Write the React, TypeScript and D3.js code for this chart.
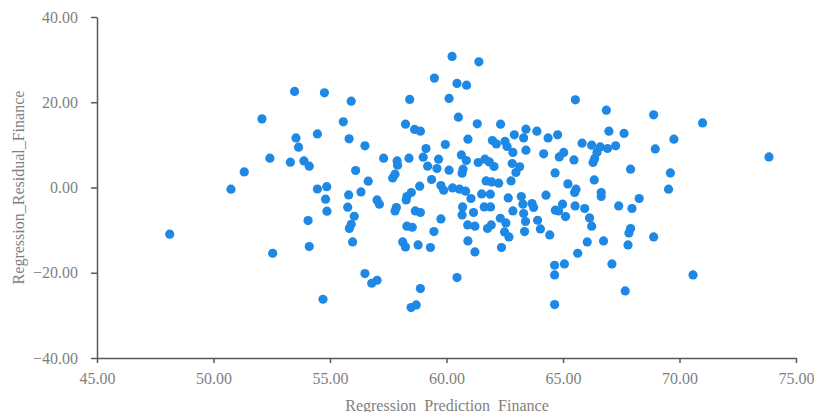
import { useEffect, useRef } from "react";
import * as d3 from "d3";

// values, same order in both arrays
const prediction = [
  53.48, 54.76, 52.08, 53.54, 54.46, 53.65, 52.42, 53.3, 53.88, 54.11,
  51.32, 50.75, 54.46, 54.86, 54.81, 54.87, 54.06, 48.12, 54.11, 52.54,
  54.7, 55.91, 55.57, 55.82, 56.5, 56.1, 56.64, 55.8, 56.33, 55.76,
  56.04, 55.91, 55.83, 55.97, 57.02, 57.12, 56.5, 56.79, 57.02,
  60.51, 58.24, 58.63, 58.88, 61.32, 62.32, 63.41, 63.88, 62.91, 63.31,
  64.36, 60.92, 59.95, 61.97, 62.14, 62.51, 62.6, 62.85, 63.41, 64.17,
  57.3, 57.88, 57.9, 58.39, 59.12, 59.0, 59.66, 60.64, 60.85, 61.36,
  61.65, 61.84, 62.04, 59.19, 59.59, 60.11, 60.71, 60.67, 62.82, 63.14,
  62.98, 57.79, 57.69, 59.36, 61.7, 61.94, 62.24, 62.77, 58.85, 59.76,
  59.88, 60.26, 60.56, 60.82, 58.49, 58.3, 61.51, 61.88, 62.65, 63.21,
  64.27, 61.05,
  60.24, 61.39, 59.48, 60.45, 60.86, 58.42, 60.11, 65.53,
  58.27, 57.85, 57.79, 58.66, 58.88, 59.76, 60.69, 60.67, 61.16, 61.62,
  61.89, 63.28, 63.67, 63.74, 62.85, 63.31, 62.31, 62.55, 63.39, 63.91,
  58.3, 58.53, 59.46, 60.91, 61.22, 61.76, 61.92, 62.49, 62.68, 63.35,
  64.03, 64.43, 58.12, 58.24, 58.78, 59.31, 60.92, 61.22, 62.36, 60.45,
  66.86, 68.89, 70.99, 64.77, 66.97, 67.62, 69.76, 65.82, 66.23, 66.6,
  66.91, 67.26, 66.46, 66.36, 66.29, 68.96, 65.03, 64.84, 65.47, 67.9,
  69.61, 64.66, 66.34, 65.21, 65.56, 65.5, 66.64, 66.64, 69.53, 68.27,
  64.98, 64.67, 64.81, 65.52, 65.93, 67.39, 67.96, 65.11, 66.14, 66.23,
  67.9, 67.83, 68.89, 66.04, 66.74, 67.79, 65.63, 64.64, 65.06, 67.1,
  64.64, 70.58,
  58.88, 58.48, 58.7, 67.67, 64.64, 73.84,
];

const residual = [
  22.54, 22.21, 16.1, 11.64, 12.58, 9.46, 6.88, 5.94, 6.24, 5.0,
  3.66, -0.4, -0.35, 0.19, -2.75, -5.56, -7.75, -10.96, -13.85, -15.42,
  -26.22, 20.26, 15.4, 11.41, 9.77, 3.99, 1.48, -1.74, -1.03, -4.62,
  -6.74, -8.62, -9.62, -12.77, -2.91, -3.92, -20.19, -22.46, -21.76,
  16.5, 14.86, 13.62, 13.22, 14.93, 14.86, 13.69, 13.22, 12.35, 11.64,
  11.64, 11.34, 10.09, 11.03, 10.23, 10.8, 9.62, 8.22, 8.76, 7.89,
  6.88, 6.24, 5.23, 6.88, 9.15, 7.11, 6.64, 7.65, 6.34, 5.87,
  6.64, 6.01, 4.93, 5.0, 4.46, 4.06, 4.3, 3.36, 5.63, 4.84,
  3.52, 3.12, 2.25, 1.88, 1.55, 1.31, 1.01, 1.55, 0.31, 0.47,
  -0.63, -0.09, -0.4, -0.87, -1.17, -2.11, -1.5, -1.57, -2.44, -2.11,
  -1.81, -2.58,
  30.75, 29.48, 25.66, 24.41, 24.01, 20.66, 20.89, 20.56,
  -2.91, -4.69, -5.49, -5.49, -5.87, -7.37, -4.55, -6.43, -5.87, -4.55,
  -4.55, -3.92, -3.76, -4.69, -5.49, -6.1, -7.21, -8.31, -7.98, -7.68,
  -9.08, -9.32, -10.33, -8.78, -9.08, -9.62, -8.78, -10.42, -11.6, -10.33,
  -9.72, -11.13, -12.77, -13.94, -13.47, -14.08, -12.54, -15.12, -14.08, -21.13,
  18.15, 17.04, 15.16, 12.35, 13.22, 12.68, 11.34, 10.4, 9.93, 9.53,
  9.15, 9.77, 8.22, 6.81, 5.87, 9.06, 8.22, 7.18, 6.48, 4.3,
  3.43, 3.43, 1.78, 0.85, -0.4, -1.17, -1.17, -2.11, -0.4, -2.58,
  -3.92, -5.33, -5.49, -4.32, -4.93, -4.32, -4.93, -6.81, -7.14, -9.08,
  -9.62, -10.66, -11.6, -12.77, -12.54, -13.47, -15.42, -18.24, -17.93, -17.93,
  -20.52, -20.52,
  -23.71, -28.17, -27.56, -24.27, -27.46, 7.18,
];

const xTicks = [45, 50, 55, 60, 65, 70, 75];
const yTicks = [-40, -20, 0, 20, 40];

const xTitle = "Regression_Prediction_Finance";
const yTitle = "Regression_Residual_Finance";

export default function App() {
  const svgRef = useRef<SVGSVGElement>(null);

  useEffect(() => {
    if (!svgRef.current) return;

    const width = 814;
    const height = 412;
    const margin = { top: 17, right: 18, bottom: 54, left: 97 };
    const font = "'Liberation Serif', 'Times New Roman', serif";
    const textColor = "#7f7f7f";
    const lineColor = "#595959";

    const svg = d3.select(svgRef.current);
    svg.selectAll("*").remove();

    const x = d3.scaleLinear()
      .domain([45, 75])
      .range([margin.left, width - margin.right]);

    const y = d3.scaleLinear()
      .domain([-40, 40])
      .range([height - margin.bottom, margin.top]);

    svg.append("g")
      .attr("fill", "#1e88e5")
      .selectAll("circle")
      .data(prediction)
      .join("circle")
      .attr("cx", d => x(d))
      .attr("cy", (d, i) => y(residual[i]))
      .attr("r", 4.6);

    const xAxis = svg.append("g")
      .attr("transform", `translate(0,${height - margin.bottom})`)
      .call(d3.axisBottom(x).tickValues(xTicks).tickSize(5).tickSizeOuter(0).tickPadding(10)
        .tickFormat(d => d3.format(".2f")(d as number)));

    const yAxis = svg.append("g")
      .attr("transform", `translate(${margin.left},0)`)
      .call(d3.axisLeft(y).tickValues(yTicks).tickSize(6).tickSizeOuter(0).tickPadding(13)
        .tickFormat(d => d3.format(".2f")(d as number)));

    [xAxis, yAxis].forEach(g => {
      g.select(".domain").attr("stroke", lineColor).attr("stroke-width", 1.5);
      g.selectAll(".tick line").attr("stroke", lineColor).attr("stroke-width", 1.5);
      g.selectAll(".tick text")
        .attr("fill", textColor)
        .style("font-family", font)
        .style("font-size", "16px");
    });

    svg.append("text")
      .attr("x", (margin.left + width - margin.right) / 2 + 0.5)
      .attr("y", 405)
      .attr("text-anchor", "middle")
      .attr("dominant-baseline", "central")
      .attr("fill", textColor)
      .style("font-family", font)
      .style("font-size", "16px")
      .text(xTitle);

    svg.append("text")
      .attr("transform", `translate(18.5,${y(0)}) rotate(-90)`)
      .attr("text-anchor", "middle")
      .attr("dominant-baseline", "central")
      .attr("fill", textColor)
      .style("font-family", font)
      .style("font-size", "16px")
      .text(yTitle);
  }, []);

  return (
    <svg
      ref={svgRef}
      width={814}
      height={412}
      style={{ position: "absolute", left: 0, top: 0, background: "#fff" }}
    />
  );
}
